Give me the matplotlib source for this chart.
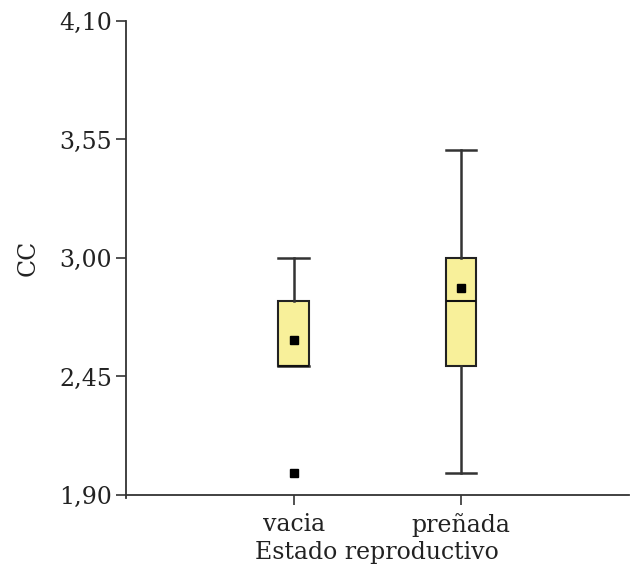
import matplotlib
matplotlib.use("Agg")
import matplotlib.pyplot as plt

# Box plot summary values
categories = ["vacia", "preñada"]
q1 = [2.50, 2.50]
medians = [2.50, 2.80]
q3 = [2.80, 3.00]
whisker_low = [2.50, 2.00]
whisker_high = [3.00, 3.50]
means = [2.62, 2.86]
outliers = [[2.00], []]

y_ticks = [1.90, 2.45, 3.00, 3.55, 4.10]
y_tick_labels = ["1,90", "2,45", "3,00", "3,55", "4,10"]

plt.rcParams["font.family"] = ["DejaVu Serif"]

fig = plt.figure(figsize=(6.3, 5.67), dpi=100)
ax = fig.add_axes([0.2, 0.127, 0.798, 0.836])

stats = []
for i, name in enumerate(categories):
    stats.append({
        "label": name,
        "q1": q1[i],
        "med": medians[i],
        "q3": q3[i],
        "whislo": whisker_low[i],
        "whishi": whisker_high[i],
        "mean": means[i],
        "fliers": outliers[i],
    })

ax.bxp(stats, positions=[1, 2], widths=0.18, capwidths=0.18,
       showmeans=True, patch_artist=True,
       boxprops=dict(facecolor="#f8f09a", edgecolor="#222222", linewidth=1.5),
       medianprops=dict(color="#111111", linewidth=1.5),
       whiskerprops=dict(color="#333333", linewidth=1.8),
       capprops=dict(color="#333333", linewidth=1.8),
       meanprops=dict(marker="s", markerfacecolor="black", markeredgecolor="black", markersize=5.5),
       flierprops=dict(marker="s", markerfacecolor="black", markeredgecolor="black", markersize=5.5))

ax.set_xlim(0, 3)
ax.set_ylim(1.90, 4.10)
ax.set_yticks(y_ticks)
ax.set_yticklabels(y_tick_labels)
ax.set_xticks([1, 2])
ax.set_xticklabels(categories)

ax.spines["top"].set_visible(False)
ax.spines["right"].set_visible(False)
ax.spines["left"].set_bounds(1.885, 4.10)
for s in ["left", "bottom"]:
    ax.spines[s].set_color("#333333")
    ax.spines[s].set_linewidth(1.3)
ax.tick_params(axis="both", direction="out", length=7, width=1.2, color="#333333",
               labelsize=17, labelcolor="#222222")
ax.tick_params(axis="x", pad=6)
ax.tick_params(axis="y", pad=3)

ax.set_ylabel("CC", fontsize=17, color="#222222", labelpad=14)
ax.set_xlabel("Estado reproductivo", fontsize=17, color="#222222", labelpad=3)

fig.savefig("out.png", dpi=100)
